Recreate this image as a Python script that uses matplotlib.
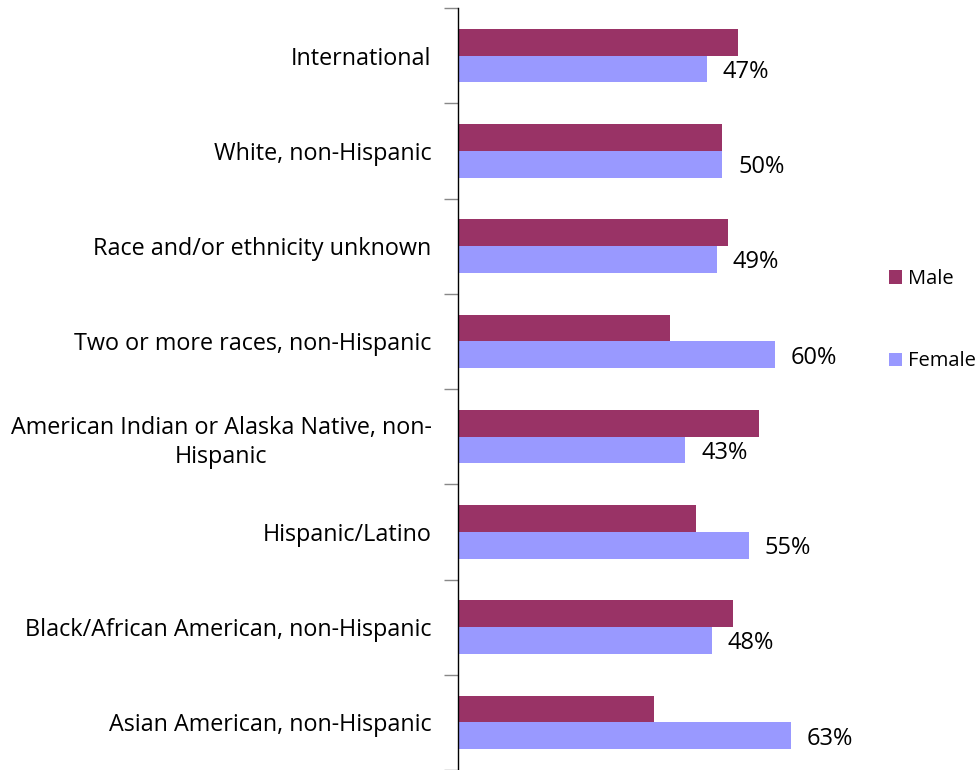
import matplotlib.pyplot as plt
import numpy as np

plt.rcParams['font.family'] = ['Open Sans', 'DejaVu Sans']

categories = ['Asian American, non-Hispanic',
              'Black/African American, non-Hispanic',
              'Hispanic/Latino',
              'American Indian or Alaska Native, non-\nHispanic',
              'Two or more races, non-Hispanic',
              'Race and/or ethnicity unknown',
              'White, non-Hispanic',
              'International']
female = [0.63, 0.48, 0.55, 0.43, 0.60, 0.49, 0.50, 0.47]
male = [0.37, 0.52, 0.45, 0.57, 0.40, 0.51, 0.50, 0.53]

male_color = '#993366'
female_color = '#9999FF'

fig = plt.figure(figsize=(9.8, 7.7), dpi=100)
ax = fig.add_axes([458/980, 0, 423/980, 762/770])

y = np.arange(len(categories))
h = 0.28
ax.barh(y + h/2, male, height=h, color=male_color, label='Male')
ax.barh(y - h/2, female, height=h, color=female_color, label='Female')

for yi, v in zip(y, female):
    ax.text(v + 0.03, yi - h/2 - 0.03, '{:.0f}%'.format(v*100),
            ha='left', va='center', fontsize=17)

ax.set_xlim(0, 0.8)
ax.set_ylim(-0.5, len(categories) - 0.5)
ax.set_yticks(y)
ax.set_yticklabels(categories, fontsize=16.8, multialignment='center',
                   linespacing=1.28)
ax.set_yticks(np.arange(-0.5, len(categories)), minor=True)
ax.tick_params(axis='y', which='major', length=0, pad=19)
ax.tick_params(axis='y', which='minor', length=10, color='#888888', width=1)
ax.set_xticks([])
for s in ['top', 'right', 'bottom']:
    ax.spines[s].set_visible(False)
ax.spines['left'].set_linewidth(1)

fig.legend(loc='upper left', bbox_to_anchor=(889/980, 1 - 269/770),
           frameon=False, fontsize=14.5, handlelength=0.65, handleheight=0.65,
           handletextpad=0.3, labelspacing=3.1, borderaxespad=0, borderpad=0)

plt.savefig('out.png')
